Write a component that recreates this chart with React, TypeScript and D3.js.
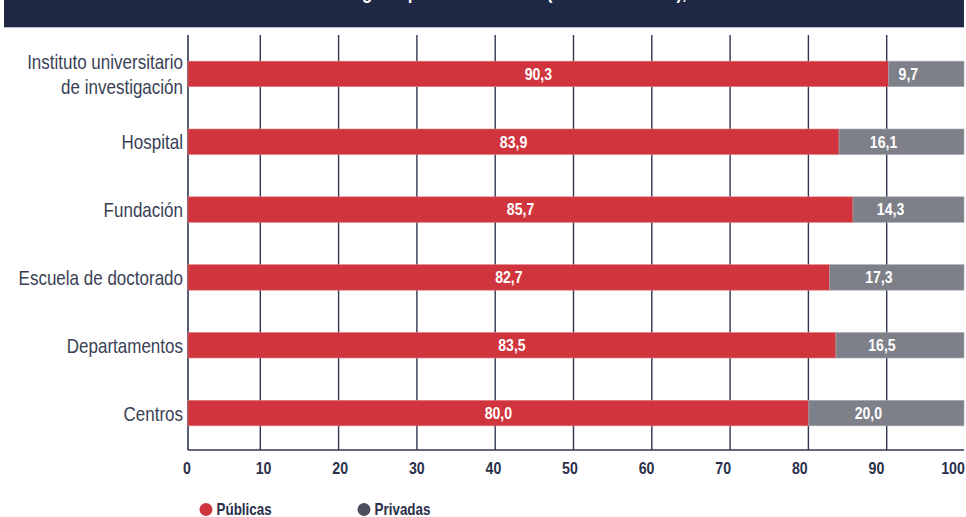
import React from "react";
import * as d3 from "d3";

// Categories, top to bottom
const categories = [
  ["Instituto universitario", "de investigación"],
  ["Hospital"],
  ["Fundación"],
  ["Escuela de doctorado"],
  ["Departamentos"],
  ["Centros"],
];
// Share of funding (%) per category
const publicas = [90.3, 83.9, 85.7, 82.7, 83.5, 80.0];
const privadas = [9.7, 16.1, 14.3, 17.3, 16.5, 20.0];
const ticks = [0, 10, 20, 30, 40, 50, 60, 70, 80, 90, 100];
const seriesNames = ["Públicas", "Privadas"];

const W = 966;
const H = 517;
const RED = "#d0353e";
const GREY = "#7e8089";
const NAVY = "#1f2946";
const INK = "#3a3f56";
const FONT = "'Liberation Sans', Arial, sans-serif";
const fmt = (v: number) => v.toFixed(1).replace(".", ",");

// Text drawn in a horizontally condensed form (scaled about its anchor point)
function CText({
  x,
  y,
  sx = 0.82,
  anchor = "middle",
  size,
  bold = false,
  fill,
  children,
}: {
  x: number;
  y: number;
  sx?: number;
  anchor?: string;
  size: number;
  bold?: boolean;
  fill: string;
  children: React.ReactNode;
}) {
  return (
    <text
      transform={`translate(${x},${y}) scale(${sx},1)`}
      dy="0.36em"
      textAnchor={anchor}
      fill={fill}
      fontFamily={FONT}
      fontWeight={bold ? "bold" : "normal"}
      fontSize={size}
    >
      {children}
    </text>
  );
}

export default function App() {
  const x = d3.scaleLinear().domain([0, 100]).range([188, 964]);
  const xGrid = d3.scaleLinear().domain([0, 100]).range([182, 965]);
  const xTick = d3.scaleLinear().domain([0, 100]).range([187, 953]);
  const y = d3
    .scalePoint<number>()
    .domain(d3.range(categories.length))
    .range([40, 447])
    .padding(0.5);
  const barH = 25.5;
  const plotTop = 35;
  const plotBottom = 450;

  return (
    <svg
      width={W}
      height={H}
      viewBox={`0 0 ${W} ${H}`}
      style={{ position: "absolute", left: 0, top: 0, background: "#fff" }}
    >
      {/* title band */}
      <rect x={4} y={0} width={960} height={27.3} fill={NAVY} />
      <text
        transform="translate(391,-1.5) scale(0.84,1)"
        textAnchor="middle"
        fill="#fff"
        fontFamily={FONT}
        fontWeight="bold"
        fontSize={20}
      >
        Distribución de la financiación según tipo de institución (% sobre el total),
      </text>

      {/* grid */}
      {ticks
        .filter((t) => t > 0 && t < 100)
        .map((t) => (
          <line
            key={t}
            x1={xGrid(t)}
            x2={xGrid(t)}
            y1={plotTop}
            y2={plotBottom}
            stroke="#2f3650"
            strokeWidth={1.4}
          />
        ))}
      <line x1={x(0)} x2={x(0)} y1={plotTop} y2={plotBottom} stroke="#2f3650" strokeWidth={1.6} />
      <line x1={x(0)} x2={964} y1={plotBottom} y2={plotBottom} stroke="#2f3650" strokeWidth={1.6} />

      {/* bars */}
      {categories.map((c, i) => {
        const cy = y(i) as number;
        const p = publicas[i];
        const q = privadas[i];
        return (
          <g key={i}>
            <rect
              x={x(0)}
              y={cy - barH / 2}
              width={x(p) - x(0)}
              height={barH}
              fill={RED}
              stroke="#e27a80"
              strokeWidth={0.6}
            />
            <rect
              x={x(p)}
              y={cy - barH / 2}
              width={x(p + q) - x(p)}
              height={barH}
              fill={GREY}
              stroke="#a5a7ae"
              strokeWidth={0.6}
            />
            <CText x={(x(0) + x(p)) / 2} y={cy} sx={0.88} size={16} bold fill="#fff">
              {fmt(p)}
            </CText>
            <CText x={(x(p) + x(p + q)) / 2 - 18} y={cy} sx={0.88} size={16} bold fill="#fff">
              {fmt(q)}
            </CText>
            {c.map((line, k) => (
              <CText
                key={k}
                x={183}
                y={cy + (k - (c.length - 1) / 2) * 25}
                sx={0.81}
                size={21}
                anchor="end"
                fill={INK}
              >
                {line}
              </CText>
            ))}
          </g>
        );
      })}

      {/* x tick labels */}
      {ticks.map((t) => (
        <CText key={t} x={xTick(t)} y={468} sx={0.86} size={16.5} bold fill="#2a3049">
          {t}
        </CText>
      ))}

      {/* legend */}
      {seriesNames.map((s, i) => (
        <g key={s} transform={`translate(${206 + i * 158},0)`}>
          <circle cy={509.5} r={6.5} fill={i === 0 ? RED : "#4b4e5b"} />
          <CText x={10.5} y={509.5} sx={0.84} size={16} bold anchor="start" fill="#2a3049">
            {s}
          </CText>
        </g>
      ))}
    </svg>
  );
}
